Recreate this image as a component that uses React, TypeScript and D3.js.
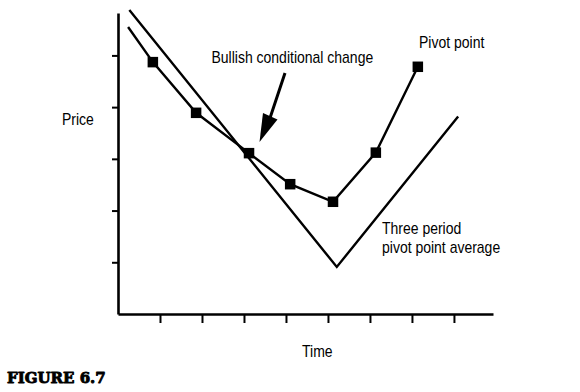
import React, { useRef, useEffect } from 'react';
import * as d3 from 'd3';

// time is in tick units (tick 1..8), price in y-tick units (tick 1..5)
const pivotLeadTime = 0.24;
const pivotLeadPrice = 5.55;
const pivotTimes = [0.83, 1.86, 3.12, 4.1, 5.12, 6.14, 7.14];
const pivotPrices = [4.87, 3.89, 3.11, 2.51, 2.17, 3.12, 4.78];

const avgTimes = [0.27, 5.21, 8.1];
const avgPrices = [5.88, 0.91, 3.82];

const xTicks = [1, 2, 3, 4, 5, 6, 7, 8];
const yTicks = [1, 2, 3, 4, 5];

const W = 580;
const H = 392;

export default function App() {
  const svgRef = useRef<SVGSVGElement>(null);

  useEffect(() => {
    if (!svgRef.current) return;
    const svg = d3.select(svgRef.current);
    svg.selectAll('*').remove();

    const x = d3.scaleLinear().domain([0, 8.93]).range([118, 493]);
    const y = d3.scaleLinear().domain([0, 5.82]).range([314, 13]);
    const font = 'Liberation Sans, Arial, sans-serif';

    // axes
    const yAxis = svg.append('g')
      .attr('transform', `translate(${x(0)},0)`)
      .call(d3.axisLeft(y).tickValues(yTicks).tickSize(6).tickSizeOuter(0).tickFormat(() => ''));
    yAxis.select('.domain').attr('stroke', '#000').attr('stroke-width', 2.6);
    yAxis.selectAll('.tick line').attr('stroke', '#000').attr('stroke-width', 2);

    const xAxis = svg.append('g')
      .attr('transform', `translate(0,${y(0)})`)
      .call(d3.axisBottom(x).tickValues(xTicks).tickSize(9).tickSizeOuter(0).tickFormat(() => ''));
    xAxis.select('.domain').attr('stroke', '#000').attr('stroke-width', 2.6);
    xAxis.selectAll('.tick line').attr('stroke', '#000').attr('stroke-width', 2);

    // average line
    const avgData = avgTimes.map((t, i) => [t, avgPrices[i]] as [number, number]);
    const line = d3.line<[number, number]>().x(d => x(d[0])).y(d => y(d[1]));
    svg.append('path')
      .datum(avgData)
      .attr('fill', 'none')
      .attr('stroke', '#000')
      .attr('stroke-width', 2.4)
      .attr('stroke-linejoin', 'miter')
      .attr('d', line);

    // pivot point line
    const pivotData: [number, number][] = [[pivotLeadTime, pivotLeadPrice]]
      .concat(pivotTimes.map((t, i) => [t, pivotPrices[i]])) as [number, number][];
    svg.append('path')
      .datum(pivotData)
      .attr('fill', 'none')
      .attr('stroke', '#000')
      .attr('stroke-width', 2.4)
      .attr('d', line);

    const sq = 10.5;
    svg.selectAll('.pivot-sq')
      .data(pivotTimes)
      .enter()
      .append('rect')
      .attr('class', 'pivot-sq')
      .attr('x', (t: number) => x(t) - sq / 2)
      .attr('y', (_t: number, i: number) => y(pivotPrices[i]) - sq / 2)
      .attr('width', sq)
      .attr('height', sq)
      .attr('fill', '#000');

    // arrow
    svg.append('line')
      .attr('x1', 285).attr('y1', 73)
      .attr('x2', 270).attr('y2', 118)
      .attr('stroke', '#000')
      .attr('stroke-width', 3);
    svg.append('path')
      .attr('d', 'M263,113 L277.5,119.5 L259.5,142 Z')
      .attr('fill', '#000');

    // labels
    const labels = [
      { text: 'Bullish conditional change', x: 211.5, y: 62.5 },
      { text: 'Pivot point', x: 419, y: 47.5 },
      { text: 'Three period', x: 382, y: 234 },
      { text: 'pivot point average', x: 382, y: 253 },
      { text: 'Price', x: 62, y: 125 },
      { text: 'Time', x: 302, y: 356.5 },
    ];
    svg.selectAll('.lbl')
      .data(labels)
      .enter()
      .append('text')
      .attr('class', 'lbl')
      .attr('transform', d => `translate(${d.x},${d.y}) scale(0.875,1)`)
      .attr('font-family', font)
      .attr('font-size', 16)
      .attr('fill', '#000')
      .text(d => d.text);

    svg.append('text')
      .attr('x', 7)
      .attr('y', 383)
      .attr('font-family', 'DejaVu Serif, serif')
      .attr('font-weight', 900)
      .attr('font-size', 15)
      .attr('fill', '#000')
      .attr('stroke', '#000')
      .attr('stroke-width', 0.9)
      .attr('stroke-linejoin', 'round')
      .text('FIGURE 6.7');
  }, []);

  return (
    <svg
      ref={svgRef}
      width={W}
      height={H}
      style={{ position: 'absolute', left: 0, top: 0, background: '#fff' }}
    />
  );
}
